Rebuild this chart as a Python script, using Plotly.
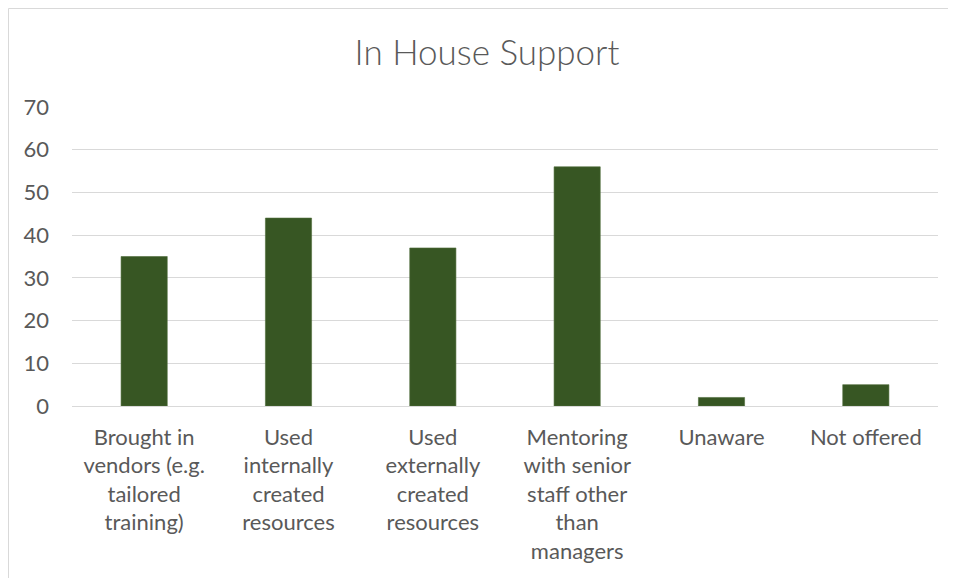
import plotly.graph_objects as go

categories = [
    "Brought in<br>vendors (e.g.<br>tailored<br>training)",
    "Used<br>internally<br>created<br>resources",
    "Used<br>externally<br>created<br>resources",
    "Mentoring<br>with senior<br>staff other<br>than<br>managers",
    "Unaware",
    "Not offered",
]
values = [35, 44, 37, 56, 2, 5]
y_ticks = [0, 10, 20, 30, 40, 50, 60, 70]

# page body has an 8px default margin, so the figure is drawn 8px in
OFF = 8
W, H = 956 - OFF, 578 - OFF
L, T = 72 - OFF, 107 - OFF
R = W - (938 - OFF)
B = H - (406 - OFF)
pw, ph = W - L - R, H - T - B

fig = go.Figure(go.Bar(
    x=categories, y=values,
    marker=dict(color="#375623", line=dict(color="#4f6b3a", width=0.6)),
    width=0.32,
))

def px_x(p):
    return (p - L) / pw

def px_y(p):
    return (H - B - p) / ph

border = dict(color="#d9d9d9", width=1)
fig.add_shape(type="line", xref="paper", yref="paper",
              x0=px_x(0.5), x1=px_x(W), y0=px_y(0.5), y1=px_y(0.5), line=border, layer="below")
fig.add_shape(type="line", xref="paper", yref="paper",
              x0=px_x(0.5), x1=px_x(0.5), y0=px_y(0.5), y1=px_y(H), line=border, layer="below")

fig.update_layout(
    width=W, height=H,
    margin=dict(l=L, r=R, t=T, b=B, autoexpand=False),
    paper_bgcolor="white", plot_bgcolor="white",
    font=dict(family="Lato, Carlito, sans-serif", color="#595959", size=22),
    title=dict(text="In House Support", x=(487 - OFF) / W, xanchor="center", xref="container",
               y=1 - (53 - OFF) / H, yanchor="middle", yref="container",
               font=dict(size=35, color="#595959", family="Lato, sans-serif", weight=300)),
    showlegend=False,
    bargap=0.68,
)
fig.update_yaxes(range=[0, 70], tickvals=y_ticks, showgrid=True, gridcolor="#d9d9d9", gridwidth=1.3,
                 zeroline=False, showline=False, ticks="", ticklabelstandoff=22,
                 tickfont=dict(size=22, color="#595959"))
fig.update_xaxes(showline=True, linecolor="#d9d9d9", linewidth=1.3, ticks="", showgrid=False,
                 tickangle=0, ticklabelstandoff=11, tickfont=dict(size=22, color="#595959"))

fig.write_html(
    "out.html",
    post_script="document.documentElement.style.overflow='hidden';document.body.style.overflow='hidden';",
)
